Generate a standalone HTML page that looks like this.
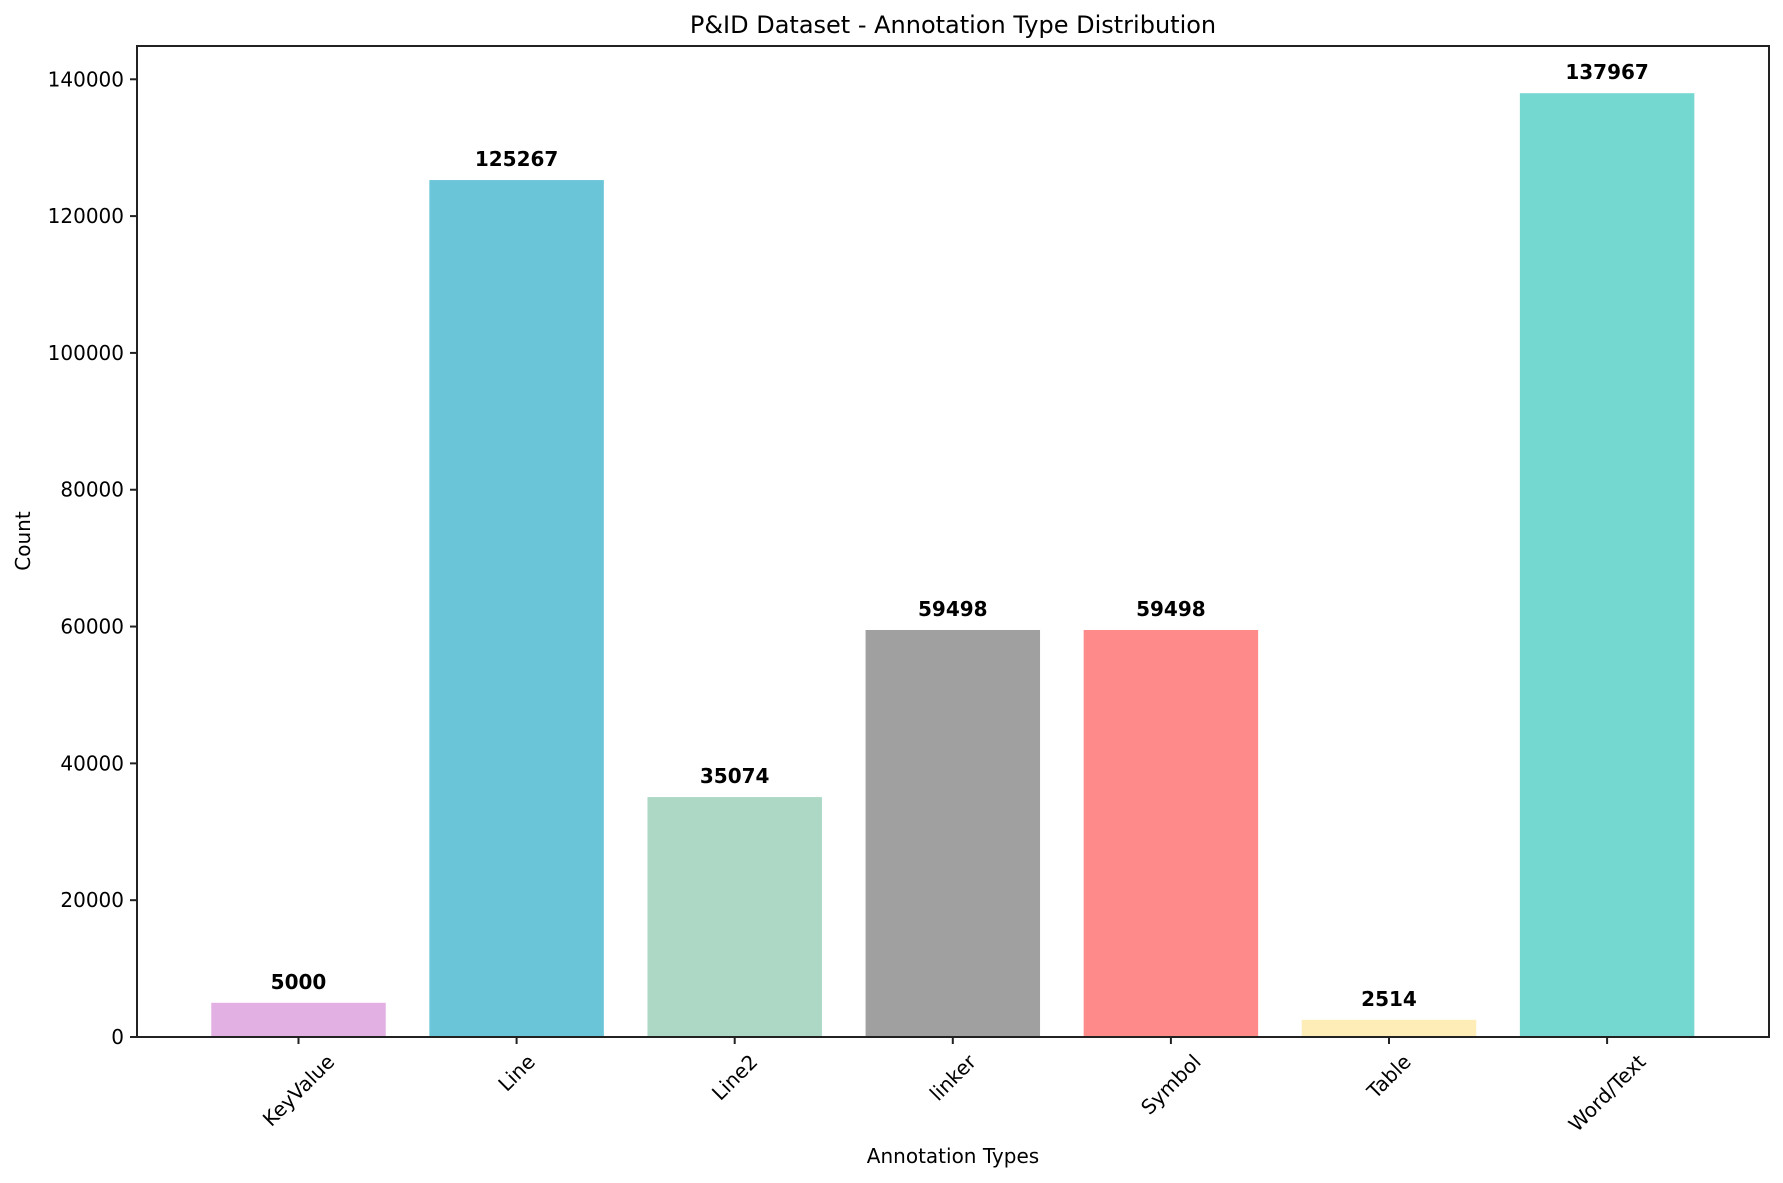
<!DOCTYPE html>
<html><head><meta charset="utf-8"><style>
body{margin:0;background:#fff;}
svg{display:block;font-family:"DejaVu Sans","Liberation Sans",sans-serif;}
</style></head><body>
<svg id="chart" width="1783" height="1183" viewBox="0 0 1783 1183">
<rect width="1783" height="1183" fill="#fff"/>
<text x="953" y="33" font-size="24" text-anchor="middle">P&amp;ID Dataset - Annotation Type Distribution</text>
<text x="953" y="1163" font-size="20" text-anchor="middle">Annotation Types</text>
<text x="30" y="541" font-size="20" text-anchor="middle" transform="rotate(-90 30 541)">Count</text>
<g id="bars"></g><g id="axes"></g>
</svg>
<script>
const categories=["KeyValue","Line","Line2","linker","Symbol","Table","Word/Text"];
const counts=[5000,125267,35074,59498,59498,2514,137967];
const colors=["#E3B0E3","#6BC5D9","#ACD8C5","#A0A0A0","#FF8A8A","#FFEDB8","#74D7D0"];
const yTicks=[0,20000,40000,60000,80000,100000,120000,140000];
const NS="http://www.w3.org/2000/svg";
const L=137,R=1769,T=46,B=1037;
const yMax=Math.max(...counts)*1.05;
const y=v=>B-(v/yMax)*(B-T);
const unit=218.1,x0=298.5;
const x=i=>x0+i*unit;
const bw=0.8*unit;
const bars=document.getElementById('bars'),axes=document.getElementById('axes');
function mk(t,a,p){const e=document.createElementNS(NS,t);for(const k in a)e.setAttribute(k,a[k]);p.appendChild(e);return e;}
counts.forEach((v,i)=>{
 const r=mk('rect',{x:x(i)-bw/2,y:y(v),width:bw,height:B-y(v),fill:colors[i]},bars);
 
 
 const t=mk('text',{x:x(i),y:y(v)-14,'font-size':20,'font-weight':'bold','text-anchor':'middle'},bars);
 t.textContent=String(v);
 
 
});
const frame=mk('rect',{x:L,y:T,width:R-L,height:B-T,fill:'none',stroke:'#222','stroke-width':2},axes);


yTicks.forEach(v=>{
 mk('line',{x1:L-7,x2:L,y1:y(v),y2:y(v),stroke:'#222','stroke-width':2},axes);
 const t=mk('text',{x:L-13,y:y(v)+7,'font-size':20,'text-anchor':'end'},axes);
 t.textContent=String(v);
 
 
});
categories.forEach((c,i)=>{
 mk('line',{x1:x(i),x2:x(i),y1:B,y2:B+7,stroke:'#222','stroke-width':2},axes);
 const t=mk('text',{'font-size':20,'text-anchor':'middle'},axes);
 t.textContent=c;
 
 
 const w=t.getComputedTextLength(),h=20;
 const ext=(w+h)*0.7071;
 const cy=B+14+ext/2;
 t.setAttribute('x',x(i));t.setAttribute('y',cy+7);
 t.setAttribute('transform','rotate(-45 '+x(i)+' '+cy+')');
});
</script>
</body></html>
